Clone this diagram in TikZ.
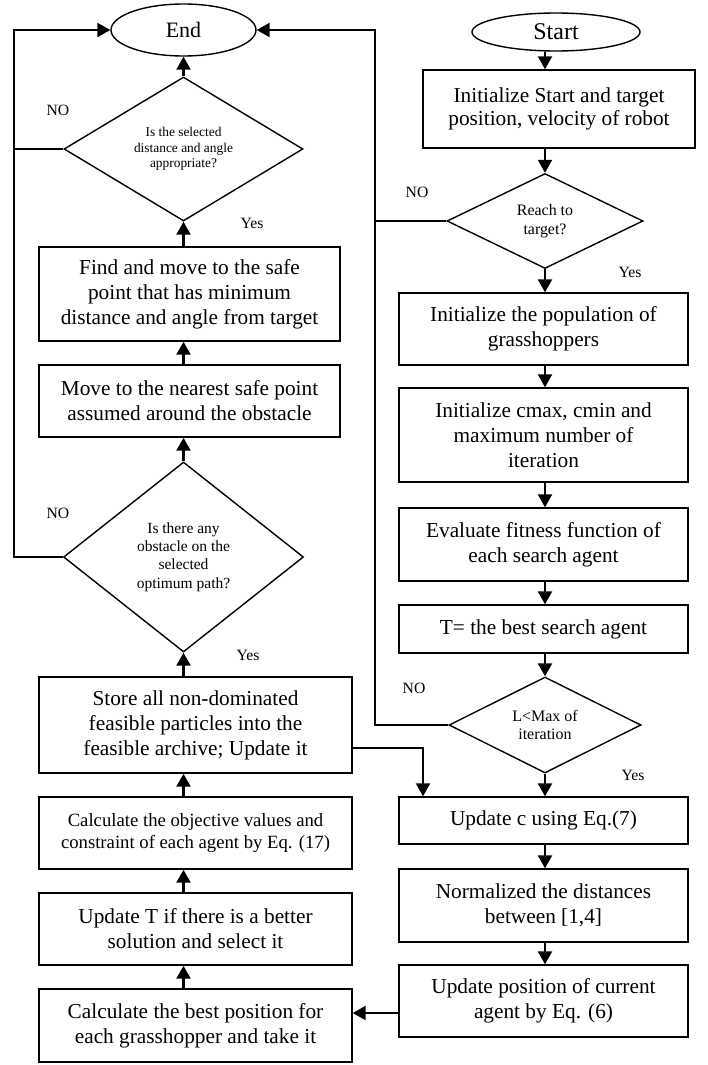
\documentclass[tikz,border=0pt]{standalone}
\usepackage{fontspec}
\setmainfont{Liberation Serif}
\usetikzlibrary{shapes.geometric,arrows.meta}
\begin{document}
\begin{tikzpicture}[x=1pt,y=-1pt,
  box/.style={draw, line width=1.4pt, rectangle, inner sep=0pt, align=center, font=\fontsize{21.3}{25}\selectfont},
  dec/.style={draw, line width=1.4pt, diamond, inner sep=0pt, align=center},
  term/.style={draw, line width=1.4pt, ellipse, inner sep=0pt},
  lbl/.style={font=\fontsize{15.7}{18}\selectfont, inner sep=0pt},
  conn/.style={line width=2.2pt},
  arr/.style={conn, -{Triangle[length=13pt,width=14pt]}},
]
\useasboundingbox (0,0) rectangle (708,1065);
\coordinate (lc) at (183.5,0);
\coordinate (rc) at (545,0);
\coordinate (ll) at (14,0);
\coordinate (rl) at (375,0);
\coordinate (sj) at (423,748);
\coordinate (bj) at (375,1013);

% left column
\node[term, minimum width=145pt, minimum height=52pt, font=\fontsize{22}{24}\selectfont] (End) at (183.5,30) {End};
\node[dec, aspect=1.66, minimum width=239pt, minimum height=144pt, font=\fontsize{13.4}{15.5}\selectfont] (d1) at (183.5,149) {Is the selected\\distance and angle\\appropriate?};
\node[box, minimum width=301pt, minimum height=94pt] (find) at (189.5,294) {Find and move to the safe\\point that has minimum\\distance and angle from target};
\node[box, minimum width=301pt, minimum height=72pt] (move) at (189.5,401) {Move to the nearest safe point\\assumed around the obstacle};
\node[dec, aspect=1.26, minimum width=240pt, minimum height=190pt, font=\fontsize{15.5}{18.3}\selectfont] (d2) at (183.5,557) {Is there any\\obstacle on the\\selected\\optimum path?};
\node[box, minimum width=313pt, minimum height=96pt] (store) at (195.5,725) {Store all non-dominated\\feasible particles into the\\feasible archive; Update it};
\node[box, minimum width=313pt, minimum height=72pt, font=\fontsize{18.7}{22}\selectfont] (calc) at (195.5,833) {Calculate the objective values and\\constraint of each agent by Eq. (17)};
\node[box, minimum width=313pt, minimum height=72pt] (updT) at (195.5,929) {Update T if there is a better\\solution and select it};
\node[box, minimum width=313pt, minimum height=73pt] (best) at (195.5,1025.5) {Calculate the best position for\\each grasshopper and take it};

% right column
\node[term, minimum width=168pt, minimum height=38pt, font=\fontsize{24}{26}\selectfont] (start) at (556,32) {Start};
\node[box, minimum width=272pt, minimum height=78pt, font=\fontsize{21.3}{22.7}\selectfont] (init) at (559,109) {Initialize Start and target\\position, velocity of robot};
\node[dec, aspect=2, minimum width=196pt, minimum height=95pt, font=\fontsize{15.9}{19}\selectfont] (reach) at (545,221) {Reach to\\target?};
\node[box, minimum width=289pt, minimum height=72pt] (pop) at (543.5,329) {Initialize the population of\\grasshoppers};
\node[box, minimum width=289pt, minimum height=94pt] (cmax) at (543.5,435) {Initialize cmax, cmin and\\maximum number of\\iteration};
\node[box, minimum width=289pt, minimum height=73pt] (eval) at (543.5,544.5) {Evaluate fitness function of\\each search agent};
\node[box, minimum width=289pt, minimum height=48pt] (tbest) at (543.5,629) {T= the best search agent};
\node[dec, aspect=2, minimum width=192pt, minimum height=96pt, font=\fontsize{16}{18}\selectfont] (lmax) at (545,725) {L<Max of\\iteration};
\node[box, minimum width=289pt, minimum height=47pt] (updc) at (543.5,820.5) {Update c using Eq.(7)};
\node[box, minimum width=289pt, minimum height=73pt] (norm) at (543.5,905.5) {Normalized the distances\\between [1,4]};
\node[box, minimum width=289pt, minimum height=72pt] (updpos) at (543.5,1001) {Update position of current\\agent by Eq. (6)};

% labels
\node[lbl] (no1) at (58,110) {NO};
\node[lbl] (yes1) at (252,223) {Yes};
\node[lbl] (no2) at (58,513) {NO};
\node[lbl] (yes2) at (248,655) {Yes};
\node[lbl] (no3) at (417,192) {NO};
\node[lbl] (yes3) at (630,272) {Yes};
\node[lbl] (no4) at (414,688) {NO};
\node[lbl] (yes4) at (633,775) {Yes};

% left column arrows (upward)
\draw[arr] (best.north -| lc) -- (updT.south -| lc);
\draw[arr] (updT.north -| lc) -- (calc.south -| lc);
\draw[arr] (calc.north -| lc) -- (store.south -| lc);
\draw[arr] (store.north -| lc) -- (d2.south);
\draw[arr] (d2.north) -- (move.south -| lc);
\draw[arr] (move.north -| lc) -- (find.south -| lc);
\draw[arr] (find.north -| lc) -- (d1.south);
\draw[arr] (d1.north) -- (End.south);

% right column arrows (downward)
\draw[arr] (start.south -| rc) -- (init.north -| rc);
\draw[arr] (init.south -| rc) -- (reach.north);
\draw[arr] (reach.south) -- (pop.north -| rc);
\draw[arr] (pop.south -| rc) -- (cmax.north -| rc);
\draw[arr] (cmax.south -| rc) -- (eval.north -| rc);
\draw[arr] (eval.south -| rc) -- (tbest.north -| rc);
\draw[arr] (tbest.south -| rc) -- (lmax.north);
\draw[arr] (lmax.south) -- (updc.north -| rc);
\draw[arr] (updc.south -| rc) -- (norm.north -| rc);
\draw[arr] (norm.south -| rc) -- (updpos.north -| rc);

% cross connectors
\draw[arr] (store.east |- sj) -- (sj) -- (sj |- updc.north);
\draw[arr] (updpos.west |- bj) -- (best.east |- bj);

% loops
\draw[conn] (d1.west) -- (d1.west -| ll);
\draw[arr] (d2.west) -- (d2.west -| ll) -- (ll |- End.west) -- (End.west);
\draw[conn] (reach.west) -- (reach.west -| rl);
\draw[arr] (lmax.west) -- (lmax.west -| rl) -- (rl |- End.east) -- (End.east);
\end{tikzpicture}
\end{document}
